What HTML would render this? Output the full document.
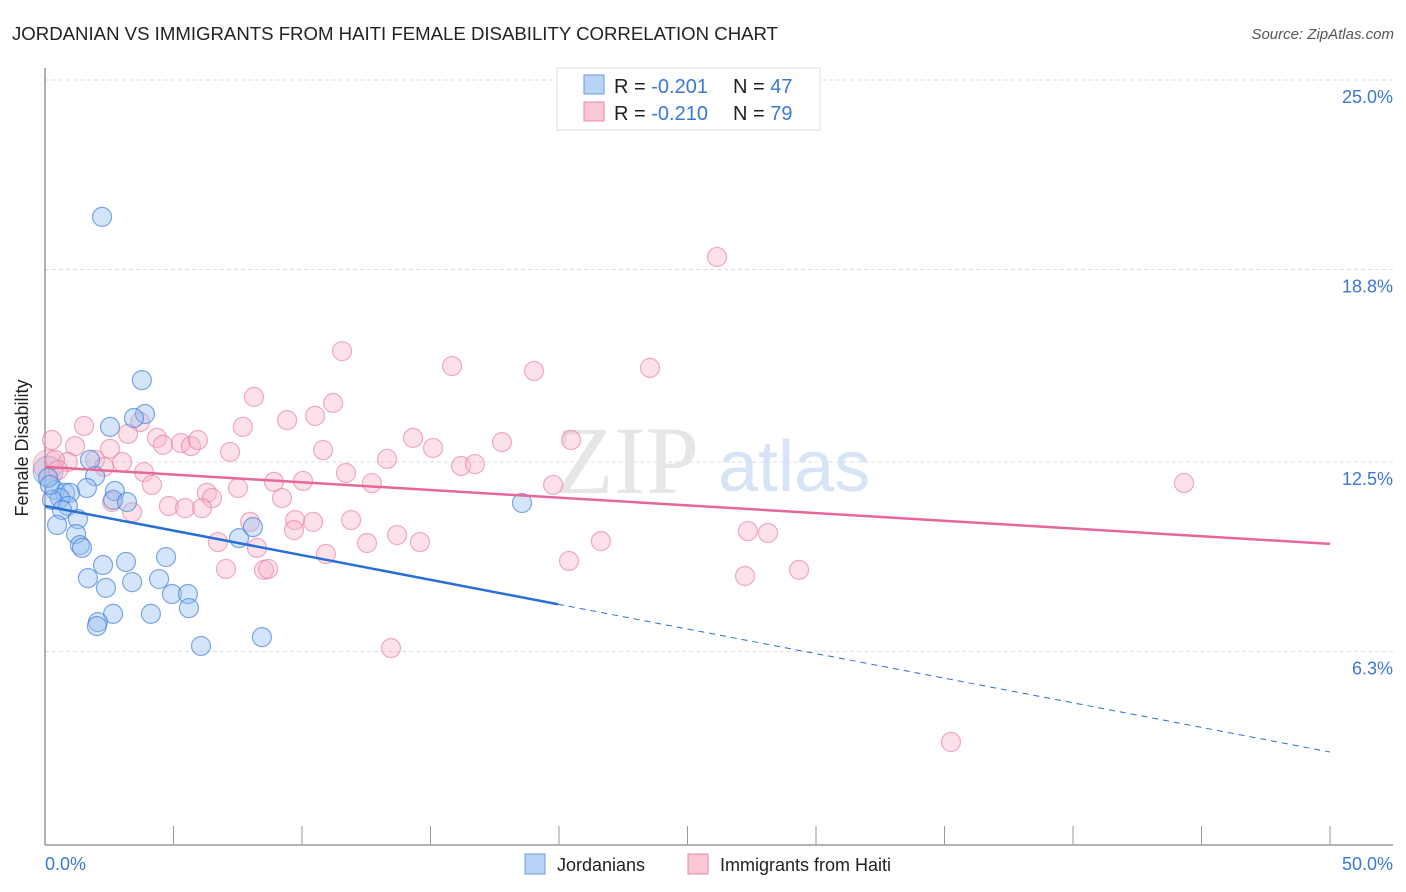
<!DOCTYPE html>
<html><head><meta charset="utf-8">
<style>
body{margin:0;background:#fff;font-family:"Liberation Sans",sans-serif;}
svg{display:block}
</style></head>
<body>
<svg id="chart" width="1406" height="892" viewBox="0 0 1406 892">
<text x="12" y="40" font-size="18" fill="#222" textLength="766" lengthAdjust="spacingAndGlyphs">JORDANIAN VS IMMIGRANTS FROM HAITI FEMALE DISABILITY CORRELATION CHART</text>
<text x="1394" y="39" font-size="15" fill="#555" font-style="italic" text-anchor="end">Source: ZipAtlas.com</text>
<g id="grid"></g>
<text x="555" y="493" font-size="96" fill="#e6e6e6" font-family="Liberation Serif,serif">ZIP</text>
<text x="718" y="491" font-size="72" fill="#d6e4f5">atlas</text>
<line x1="45" y1="68" x2="45" y2="845" stroke="#999" stroke-width="1.5"/>
<line x1="45" y1="845" x2="1393" y2="845" stroke="#999" stroke-width="1.5"/>
<g id="xticks"></g>
<g id="pts"></g>
<g id="trends"></g>
<text x="36" y="456" font-size="18" fill="#222" text-anchor="middle" transform="rotate(-90 28 456)">Female Disability</text>
<text x="45" y="870" font-size="18" fill="#3a78d6">0.0%</text>
<text x="1393" y="870" font-size="18" fill="#3a78d6" text-anchor="end">50.0%</text>
<g>
<rect x="557" y="68" width="263" height="62" fill="#fff" stroke="#ddd"/>
<rect x="584" y="75" width="20" height="19" fill="#b8d3f5" stroke="#6a9de0"/>
<rect x="584" y="102" width="20" height="19" fill="#fcc8d6" stroke="#e88aa5"/>
<text x="614" y="93" font-size="20" fill="#222">R = <tspan fill="#3a78d6">-0.201</tspan><tspan x="733">N = </tspan><tspan fill="#3a78d6">47</tspan></text>
<text x="614" y="120" font-size="20" fill="#222">R = <tspan fill="#3a78d6">-0.210</tspan><tspan x="733">N = </tspan><tspan fill="#3a78d6">79</tspan></text>
</g>
<g>
<rect x="525" y="854" width="20" height="20" fill="#b8d3f5" stroke="#6a9de0"/>
<text x="557" y="871" font-size="18" fill="#222">Jordanians</text>
<rect x="688" y="854" width="20" height="20" fill="#fcc8d6" stroke="#e88aa5"/>
<text x="720" y="871" font-size="18" fill="#222">Immigrants from Haiti</text>
</g>
</svg>
<script>
const yTicks=[25.0,18.8,12.5,6.3];
const yTickLabels=["25.0%","18.8%","12.5%","6.3%"];
const xTicks=[0,5,10,15,20,25,30,35,40,45,50];
const blueX=[2.22,3.77,3.89,3.46,2.53,1.75,1.95,1.63,2.72,0.39,0.78,0.97,0.58,0.27,2.65,3.19,0.89,0.66,1.28,0.47,1.21,1.36,1.44,7.55,8.09,18.56,2.26,3.15,4.71,1.67,3.39,4.44,2.37,4.94,5.56,5.60,4.12,2.65,2.06,2.02,8.44,6.07,0.12,0.19];
const blueY=[20.52,15.18,14.07,13.94,13.65,12.57,12.04,11.65,11.55,11.58,11.49,11.49,11.32,11.26,11.26,11.19,11.06,10.93,10.63,10.44,10.14,9.78,9.69,10.01,10.37,11.16,9.13,9.23,9.39,8.70,8.57,8.67,8.38,8.18,8.18,7.72,7.53,7.53,7.26,7.13,6.77,6.48,11.98,11.75];
const pinkX=[26.15,11.56,15.84,19.03,23.54,8.13,11.21,9.42,10.51,1.52,7.70,3.70,0.27,1.17,2.53,3.23,4.36,4.59,5.29,5.68,5.95,7.20,14.32,17.78,20.47,15.10,10.82,13.31,16.19,16.73,0.89,1.95,2.30,3.00,3.85,11.71,12.72,19.77,44.32,4.16,8.91,10.04,7.51,6.30,6.50,9.22,2.61,3.39,4.82,5.45,6.11,7.98,9.73,10.43,11.91,9.69,6.73,8.25,10.93,12.53,13.70,14.59,21.63,27.35,28.13,20.39,7.04,8.52,8.68,27.24,29.34,13.46,35.25,0.39,0.51];
const pinkY=[19.21,16.13,15.64,15.48,15.58,14.63,14.43,13.87,14.01,13.68,13.65,13.81,13.22,13.02,12.93,13.42,13.29,13.06,13.12,13.02,13.22,12.83,13.29,13.15,13.22,12.96,12.89,12.60,12.37,12.43,12.50,12.57,12.34,12.50,12.17,12.14,11.81,11.75,11.81,11.75,11.85,11.88,11.65,11.49,11.32,11.32,11.19,10.86,11.06,10.99,10.99,10.54,10.60,10.54,10.60,10.27,9.88,9.69,9.49,9.85,10.11,9.88,9.91,10.24,10.18,9.26,9.00,8.97,9.00,8.77,8.97,6.41,3.34,12.57,12.24];
const blueTrend=[11.06,3.01];
const blueSolidEnd=19.96;
const pinkTrend=[12.34,9.82];
const X=v=>45+v*25.7;
const Y=v=>844-v*30.56;
const NS="http://www.w3.org/2000/svg";
function mk(tag,attrs,parent){const e=document.createElementNS(NS,tag);for(const k in attrs)e.setAttribute(k,attrs[k]);parent.appendChild(e);return e;}
const grid=document.getElementById('grid');
yTicks.forEach((t,i)=>{
 const l=mk('line',{x1:45,x2:1393,y1:Y(t),y2:Y(t),stroke:'#ddd','stroke-dasharray':'4,3'},grid);
 
 
 const tx=mk('text',{x:1393,y:Y(t)+23,'font-size':18,fill:'#3a78d6','text-anchor':'end'},grid);
 tx.textContent=yTickLabels[i];
 
 
});
const xt=document.getElementById('xticks');
xTicks.forEach(t=>{
 const l=mk('line',{x1:X(t),x2:X(t),y1:826,y2:845,stroke:'#999','stroke-width':1},xt);
 
 
});
const pts=document.getElementById('pts');
const b1=mk('circle',{cx:X(0.12),cy:Y(12.2),r:15,fill:'rgba(120,165,230,0.35)',stroke:'rgba(60,120,215,0.5)'},pts);


const b2=mk('circle',{cx:X(0.12),cy:Y(12.4),r:15,fill:'rgba(245,160,185,0.35)',stroke:'rgba(230,110,150,0.5)'},pts);


pinkX.forEach((x,i)=>{
 const c=mk('circle',{cx:X(x),cy:Y(pinkY[i]),r:9.5,fill:'rgba(248,180,200,0.4)',stroke:'rgba(232,120,155,0.6)','stroke-width':1.2},pts);
 
 
});
blueX.forEach((x,i)=>{
 const c=mk('circle',{cx:X(x),cy:Y(blueY[i]),r:9.5,fill:'rgba(150,190,240,0.4)',stroke:'rgba(60,125,215,0.65)','stroke-width':1.2},pts);
 
 
});
const tr=document.getElementById('trends');
const bAt=v=>blueTrend[0]+(blueTrend[1]-blueTrend[0])*v/50;
const l1=mk('line',{x1:X(0),y1:Y(blueTrend[0]),x2:X(blueSolidEnd),y2:Y(bAt(blueSolidEnd)),stroke:'#2a6fd6','stroke-width':2.5},tr);


const l2=mk('line',{x1:X(blueSolidEnd),y1:Y(bAt(blueSolidEnd)),x2:X(50),y2:Y(blueTrend[1]),stroke:'#2a6fd6','stroke-width':1,'stroke-dasharray':'6,5'},tr);


const l3=mk('line',{x1:X(0),y1:Y(pinkTrend[0]),x2:X(50),y2:Y(pinkTrend[1]),stroke:'#e8679a','stroke-width':2.5},tr);


</script>
</body></html>
